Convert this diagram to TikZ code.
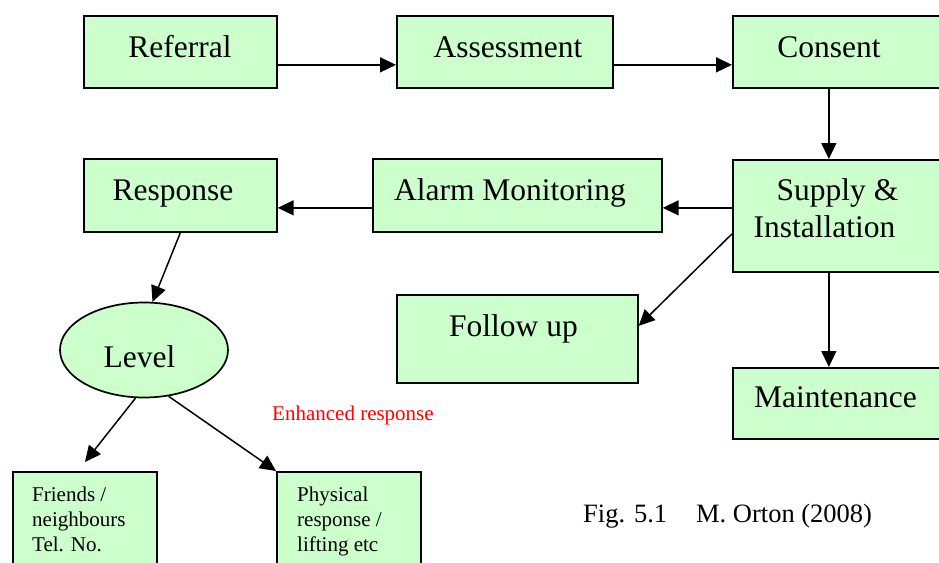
\documentclass[tikz,border=0pt]{standalone}
\usepackage{fontspec}
\setmainfont{Liberation Serif}
\usetikzlibrary{arrows.meta,shapes.geometric}
\definecolor{boxgreen}{HTML}{CCFFCC}
\tikzset{
  box/.style={draw=black, fill=boxgreen, line width=1.7pt, rectangle, inner sep=0pt, anchor=north west},
  lvl/.style={draw=black, fill=boxgreen, line width=1.7pt, ellipse, inner sep=0pt},
  arr/.style={line width=1.5pt, -{Triangle[length=16pt,width=15pt]}},
  big/.style={font=\fontsize{31.5}{37}\selectfont, anchor=base, inner sep=0pt},
  small/.style={font=\fontsize{21}{25}\selectfont, anchor=base west, inner sep=0pt},
}
\begin{document}
\begin{tikzpicture}[x=1pt,y=-1pt]
\useasboundingbox (0,0) rectangle (939,562);
\fill[white] (0,0) rectangle (939,562);
% boxes
\node[box, minimum width=193pt, minimum height=72pt] (referral) at (83,15) {};
\node[box, minimum width=216pt, minimum height=72pt] (assessment) at (396,15) {};
\node[box, minimum width=215pt, minimum height=72pt] (consent) at (732,15) {};
\node[box, minimum width=193pt, minimum height=73pt] (response) at (83,158) {};
\node[box, minimum width=289pt, minimum height=73pt] (alarm) at (372,158) {};
\node[box, minimum width=215pt, minimum height=112pt] (supply) at (732,159) {};
\node[box, minimum width=241pt, minimum height=88pt] (follow) at (396,294) {};
\node[box, minimum width=215pt, minimum height=71pt] (maint) at (732,367) {};
\node[box, minimum width=144pt, minimum height=100pt] (friends) at (12,471) {};
\node[box, minimum width=144pt, minimum height=100pt] (physical) at (276,471) {};
\node[lvl, minimum width=168pt, minimum height=95pt] (level) at (144,350) {};
% texts
\node[big] (referral-t) at (180,57) {Referral};
\node[big] (assessment-t) at (508,57) {Assessment};
\node[big] (consent-t) at (829,57) {Consent};
\node[big] (response-t) at (173,200) {Response};
\node[big] (alarm-t) at (510,200) {Alarm Monitoring};
\node[big] (supply-t1) at (837.5,200) {Supply \&};
\node[big] (supply-t2) at (824.5,237) {Installation};
\node[big] (follow-t) at (513.5,336) {Follow up};
\node[big] (maint-t) at (835.5,407) {Maintenance};
\node[big] (level-t) at (139.5,367) {Level};
\node[small] (friends-t1) at (32,501) {Friends /};
\node[small] (friends-t2) at (32,526) {neighbours};
\node[small] (friends-t3) at (32,551) {Tel. No.};
\node[small] (physical-t1) at (297,501) {Physical};
\node[small] (physical-t2) at (297,526) {response /};
\node[small] (physical-t3) at (297,551) {lifting etc};
\node[small, text=red] (enhanced) at (272,420) {Enhanced response};
\node[anchor=base west, inner sep=0pt, font=\fontsize{26.5}{30}\selectfont] (fig) at (583,522) {Fig. 5.1\hspace{29pt}M. Orton (2008)};
% connectors
\draw[arr] ([yshift=-13pt]referral.east) -- ([yshift=-13pt]assessment.west);
\draw[arr] ([yshift=-13pt]assessment.east) -- ([yshift=-13pt]consent.west);
\draw[arr] ([xshift=-11.5pt]consent.south) -- ([xshift=-11.5pt]supply.north);
\draw[arr] ([yshift=-12.5pt]supply.west |- alarm.east) -- ([yshift=-12.5pt]alarm.east);
\draw[arr] ([yshift=-12.5pt]alarm.west) -- ([yshift=-12.5pt]response.east);
\draw[arr] ([yshift=-18pt]supply.west) -- ([yshift=13pt]follow.east);
\draw[arr] ([xshift=-11.5pt]supply.south) -- ([xshift=-11.5pt]maint.north);
\draw[arr] (response.south) -- (level.80);
\coordinate (fend) at (85,462);
\draw[arr] (level.-100) -- (fend);
\draw[arr] (level.-62) -- (physical.north west);
\end{tikzpicture}
\end{document}
